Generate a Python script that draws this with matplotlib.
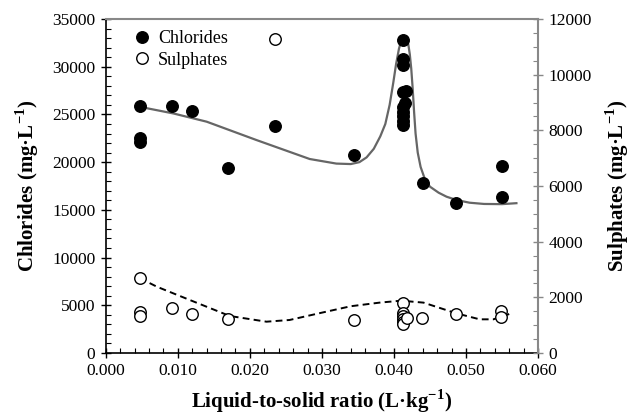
import matplotlib
matplotlib.use("Agg")
import matplotlib.pyplot as plt
from matplotlib.ticker import MultipleLocator, FormatStrFormatter
from matplotlib.lines import Line2D

plt.rcParams['font.family'] = ['Liberation Serif', 'DejaVu Serif']
plt.rcParams['mathtext.fontset'] = 'custom'
plt.rcParams['mathtext.rm'] = 'Liberation Serif'
plt.rcParams['mathtext.bf'] = 'Liberation Serif:bold'

# Chlorides (left axis, mg/L)
chl_x = [0.0047, 0.0047, 0.0047, 0.0092, 0.0119, 0.0170, 0.0235, 0.0345,
         0.0412, 0.0412, 0.0412, 0.0412, 0.0417, 0.0416, 0.0412, 0.0412,
         0.0412, 0.0412, 0.0412, 0.0440, 0.0486, 0.0550, 0.0550]
chl_y = [25900, 22500, 22150, 25900, 25330, 19350, 23750, 20800,
         32800, 30770, 30180, 27380, 27490, 26230, 25800, 25300,
         24800, 24300, 23900, 17780, 15720, 19630, 16380]

# Sulphates (right axis, mg/L)
sul_x = [0.0047, 0.0047, 0.0047, 0.0092, 0.0119, 0.0170, 0.0235, 0.0345,
         0.0412, 0.0412, 0.0412, 0.0412, 0.0412, 0.0412, 0.0418, 0.0439,
         0.0486, 0.0548, 0.0548]
sul_y = [2690, 1480, 1330, 1620, 1400, 1220, 11280, 1170,
         1790, 1430, 1330, 1230, 1130, 1050, 1250, 1270,
         1390, 1510, 1280]

# Fitted curves
chl_fit_x = [0.0047, 0.0094, 0.0140, 0.0209, 0.0283, 0.0320, 0.0340, 0.0352,
             0.0362, 0.0372, 0.0381, 0.0388, 0.0394, 0.0399, 0.0403, 0.0407,
             0.0410, 0.0413, 0.0417, 0.0420, 0.0422, 0.0424, 0.0426, 0.0428,
             0.0430, 0.0433, 0.0437, 0.0443, 0.0450, 0.0462, 0.0473, 0.0487,
             0.0505, 0.0525, 0.0550, 0.0570]
chl_fit_y = [25800, 25100, 24240, 22320, 20330, 19850, 19800, 20000,
             20500, 21400, 22700, 24000, 26000, 28300, 30300, 31900,
             32700, 32980, 32850, 32300, 31300, 29800, 27700, 25200,
             23000, 21000, 19500, 18200, 17430, 16800, 16380, 16030,
             15750, 15620, 15600, 15700]

sul_fit_x = [0.0047, 0.0071, 0.0117, 0.0172, 0.0223, 0.0255, 0.0300, 0.0340,
             0.0380, 0.0410, 0.0441, 0.0486, 0.0519, 0.0538, 0.0560]
sul_fit_y = [2690, 2380, 1900, 1330, 1125, 1186, 1450, 1680,
             1810, 1880, 1810, 1430, 1210, 1210, 1400]

fig = plt.figure(figsize=(6.3, 4.18), dpi=100)
ax = fig.add_axes([0.168, 0.1555, 0.686, 0.799])
ax2 = ax.twinx()

ax.plot(chl_fit_x, chl_fit_y, color='#666666', lw=1.6, zorder=2)
ax.plot(chl_x, chl_y, 'o', color='black', ms=8.3, zorder=3)
ax2.plot(sul_fit_x, sul_fit_y, color='black', lw=1.4, ls=(0, (3.5, 2.2)), zorder=2)
ax2.plot(sul_x, sul_y, 'o', mfc='white', mec='black', mew=1.0, ms=8.3, zorder=3)

ax.set_xlim(0, 0.06)
ax.set_ylim(0, 35000)
ax2.set_ylim(0, 12000)

ax.xaxis.set_major_locator(MultipleLocator(0.01))
ax.xaxis.set_minor_locator(MultipleLocator(0.002))
ax.xaxis.set_major_formatter(FormatStrFormatter('%.3f'))
ax.yaxis.set_major_locator(MultipleLocator(5000))
ax.yaxis.set_minor_locator(MultipleLocator(1000))
ax2.yaxis.set_major_locator(MultipleLocator(2000))
ax2.yaxis.set_minor_locator(MultipleLocator(500))

for a in (ax, ax2):
    a.tick_params(which='major', direction='inout', length=7, width=1, labelsize=12.5, pad=4)
    a.tick_params(which='minor', direction='in', length=3.5, width=0.8)

ax.spines['top'].set_color('#888888')
ax.spines['top'].set_linewidth(1.5)
ax2.spines['top'].set_visible(False)
ax2.spines['right'].set_color('#888888')
ax2.spines['right'].set_linewidth(1.5)
ax.spines['right'].set_visible(False)
ax2.spines['left'].set_visible(False)
ax2.spines['bottom'].set_visible(False)
ax.spines['left'].set_linewidth(1.2)
ax.spines['bottom'].set_linewidth(1.2)
ax2.tick_params(which='both', colors='#888888', labelcolor='black')

ax.set_xlabel(r'Liquid-to-solid ratio (L·kg$^{\mathbf{-1}}$)', fontsize=15, fontweight='bold', labelpad=6)
ax.set_ylabel(r'Chlorides (mg·L$^{\mathbf{-1}}$)', fontsize=15, fontweight='bold', labelpad=8)
ax2.set_ylabel(r'Sulphates (mg·L$^{\mathbf{-1}}$)', fontsize=15, fontweight='bold', labelpad=8)

handles = [Line2D([], [], ls='none', marker='o', color='black', ms=8.3),
           Line2D([], [], ls='none', marker='o', mfc='white', mec='black', mew=1.0, ms=8.3)]
ax.legend(handles, ['Chlorides', 'Sulphates'], loc='upper left', bbox_to_anchor=(0.025, 1.015),
          frameon=False, fontsize=13, handletextpad=0.4, labelspacing=0.25, handlelength=1.0)

fig.savefig('out.png', dpi=100)
